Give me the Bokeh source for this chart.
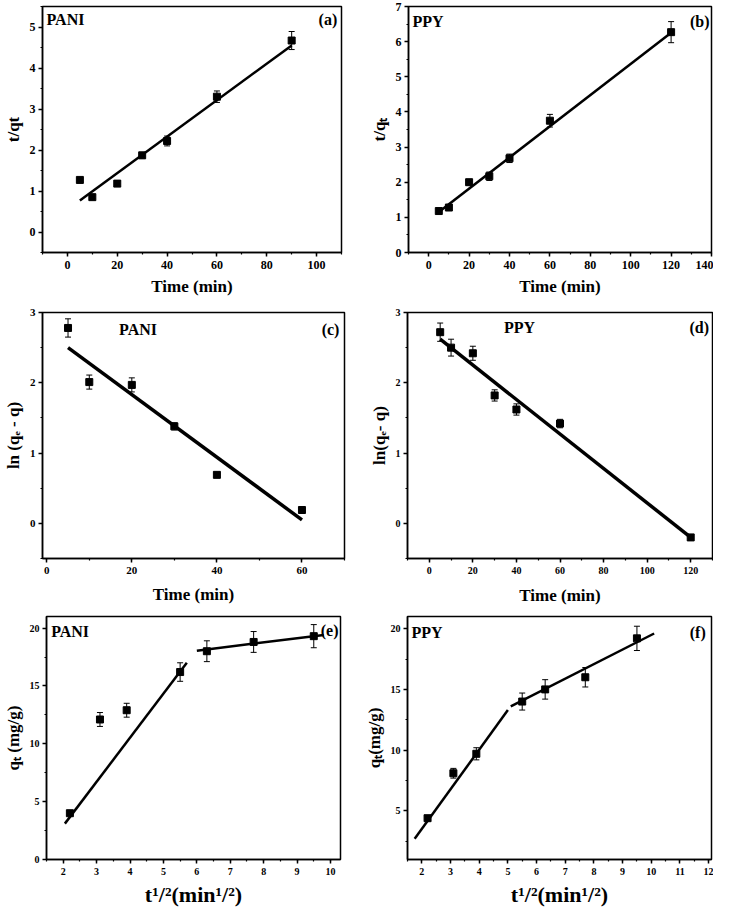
from bokeh.plotting import figure
from bokeh.layouts import column, row
from bokeh.models import Range1d, SingleIntervalTicker, Whisker, ColumnDataSource, Label, TeeHead
from bokeh.embed import file_html
from bokeh.resources import INLINE

# ---------------- data ----------------
# (a) PANI pseudo-second order
a_x = [5, 10, 20, 30, 40, 60, 90]
a_y = [1.27, 0.85, 1.18, 1.87, 2.22, 3.30, 4.67]
a_err = [0.03, 0.03, 0.06, 0.07, 0.12, 0.14, 0.22]
a_fit_x = [5, 90]
a_fit_y = [0.77, 4.55]

# (b) PPY pseudo-second order
b_x = [5, 10, 20, 30, 40, 60, 120]
b_y = [1.18, 1.28, 2.00, 2.17, 2.68, 3.75, 6.27]
b_err = [0.03, 0.05, 0.08, 0.12, 0.12, 0.18, 0.30]
b_fit_x = [5, 120]
b_fit_y = [1.15, 6.25]

# (c) PANI pseudo-first order
c_x = [5, 10, 20, 30, 40, 60]
c_y = [2.78, 2.01, 1.97, 1.38, 0.69, 0.19]
c_err = [0.13, 0.10, 0.10, 0.05, 0.02, 0.02]
c_fit_x = [5, 60]
c_fit_y = [2.50, 0.05]

# (d) PPY pseudo-first order
d_x = [5, 10, 20, 30, 40, 60, 120]
d_y = [2.72, 2.50, 2.42, 1.82, 1.62, 1.42, -0.20]
d_err = [0.13, 0.12, 0.10, 0.08, 0.08, 0.06, 0.02]
d_fit_x = [5, 120]
d_fit_y = [2.62, -0.20]

# (e) PANI intraparticle diffusion
e_x = [2.2, 3.1, 3.9, 5.5, 6.3, 7.7, 9.5]
e_y = [4.0, 12.1, 12.9, 16.2, 18.0, 18.8, 19.3]
e_err = [0.2, 0.6, 0.6, 0.8, 0.9, 0.9, 1.0]
e_fit1_x = [2.05, 5.7]
e_fit1_y = [3.1, 17.0]
e_fit2_x = [6.0, 9.8]
e_fit2_y = [18.05, 19.4]

# (f) PPY intraparticle diffusion
f_x = [2.2, 3.1, 3.9, 5.5, 6.3, 7.7, 9.5]
f_y = [4.4, 8.1, 9.7, 14.0, 15.0, 16.0, 19.2]
f_err = [0.2, 0.4, 0.5, 0.7, 0.8, 0.8, 1.0]
f_fit1_x = [1.75, 5.0]
f_fit1_y = [2.7, 13.3]
f_fit2_x = [5.1, 10.1]
f_fit2_y = [13.6, 19.6]

FONT = "Liberation Serif, serif"


def panel(width, height, borders, xr, yr, xint, yint, xlabel, ylabel,
          xs, ys, errs, fits, name, name_pos, tag, tag_pos, fit_width=2.5,
          xlabel_size="17px", tick_size="12px", xstand=5):
    left, right, top, bottom = borders
    p = figure(width=width, height=height, output_backend="svg",
               toolbar_location=None,
               x_range=Range1d(*xr), y_range=Range1d(*yr),
               min_border_left=left, min_border_right=right,
               min_border_top=top, min_border_bottom=bottom)
    p.grid.visible = False
    p.background_fill_color = "white"
    p.border_fill_color = "white"
    p.outline_line_color = "black"
    p.outline_line_width = 1.5
    p.xaxis.ticker = SingleIntervalTicker(interval=xint, num_minor_ticks=2)
    p.yaxis.ticker = SingleIntervalTicker(interval=yint, num_minor_ticks=2)
    for ax in (p.xaxis[0], p.yaxis[0]):
        ax.axis_line_color = "black"
        ax.axis_line_width = 1.5
        ax.major_tick_line_color = "black"
        ax.minor_tick_line_color = "black"
        ax.major_tick_line_width = 1.5
        ax.minor_tick_line_width = 1.2
        ax.major_tick_in = 0
        ax.major_tick_out = 4
        ax.minor_tick_in = 0
        ax.minor_tick_out = 2
        ax.major_label_text_font = FONT
        ax.major_label_text_font_style = "bold"
        ax.major_label_text_font_size = tick_size
        ax.major_label_text_color = "black"
        ax.axis_label_text_font = FONT
        ax.axis_label_text_font_style = "bold"
        ax.axis_label_text_color = "black"
    p.xaxis.axis_label = xlabel
    p.yaxis.axis_label = ylabel
    p.xaxis.axis_label_text_font_size = xlabel_size
    p.yaxis.axis_label_text_font_size = "17px"
    p.xaxis.axis_label_standoff = xstand
    p.yaxis.axis_label_standoff = 4
    p.xaxis.major_label_standoff = 4
    p.yaxis.major_label_standoff = 3

    for fx, fy in fits:
        p.line(fx, fy, line_color="black", line_width=fit_width)

    upper = [y + e for y, e in zip(ys, errs)]
    lower = [y - e for y, e in zip(ys, errs)]
    src = ColumnDataSource(dict(x=xs, y=ys, upper=upper, lower=lower))
    p.add_layout(Whisker(source=src, base="x", upper="upper", lower="lower",
                         line_color="black", line_width=1,
                         upper_head=TeeHead(size=6, line_color="black", line_width=1),
                         lower_head=TeeHead(size=6, line_color="black", line_width=1)))
    p.scatter("x", "y", source=src, marker="square", size=7,
              fill_color="black", line_color="black")

    p.add_layout(Label(x=name_pos[0], y=name_pos[1], text=name,
                       text_font=FONT, text_font_style="bold",
                       text_font_size="16px", text_baseline="top",
                       text_align="left", text_color="black"))
    p.add_layout(Label(x=tag_pos[0], y=tag_pos[1], text=tag,
                       text_font=FONT, text_font_style="bold",
                       text_font_size="16px", text_baseline="top",
                       text_align="right", text_color="black"))
    return p


pa = panel(357, 300, (36, 16, 6, 48), (-10, 110), (-0.5, 5.5), 20, 1,
           "Time (min)", "t/qt", a_x, a_y, a_err, [(a_fit_x, a_fit_y)],
           "PANI", (-8.4, 5.38), "(a)", (108.3, 5.38))
pb = panel(356, 300, (51, 2, 6, 48), (-10, 140), (0, 7), 20, 1,
           "Time (min)", "t/qₜ", b_x, b_y, b_err, [(b_fit_x, b_fit_y)],
           "PPY", (-8.0, 6.82), "(b)", (139.0, 6.82))
pc = panel(357, 310, (41, 13, 12, 52), (-1, 70), (-0.5, 3), 20, 1,
           "Time (min)", "ln (qₑ - q)", c_x, c_y, c_err, [(c_fit_x, c_fit_y)],
           "PANI", (17, 2.88), "(c)", (68.8, 2.88), fit_width=3.5,
           tick_size="11px", xstand=8)
pd_ = panel(356, 310, (50, 1, 12, 52), (-10, 130), (-0.5, 3), 20, 1,
            "Time (min)", "ln(qₑ- q)", d_x, d_y, d_err, [(d_fit_x, d_fit_y)],
            "PPY", (34.3, 2.91), "(d)", (128.4, 2.91), fit_width=3.5,
            tick_size="10px", xstand=9)
pe = panel(357, 299, (45, 17, 6, 47), (1.5, 10.3), (0, 21), 1, 5,
           "t¹/²(min¹/²)", "qₜ (mg/g)", e_x, e_y, e_err,
           [(e_fit1_x, e_fit1_y), (e_fit2_x, e_fit2_y)],
           "PANI", (1.64, 20.4), "(e)", (10.24, 20.5), xlabel_size="22px",
           tick_size="10px", xstand=4)
pf = panel(356, 299, (50, 2, 6, 47), (1.5, 12.1), (1, 21), 1, 5,
           "t¹/²(min¹/²)", "qₜ(mg/g)", f_x, f_y, f_err,
           [(f_fit1_x, f_fit1_y), (f_fit2_x, f_fit2_y)],
           "PPY", (1.64, 20.35), "(f)", (11.9, 20.35), xlabel_size="22px",
           tick_size="10px", xstand=4)

layout = column(row(pa, pb), row(pc, pd_), row(pe, pf))
open("out.html", "w").write(file_html(layout, INLINE))
